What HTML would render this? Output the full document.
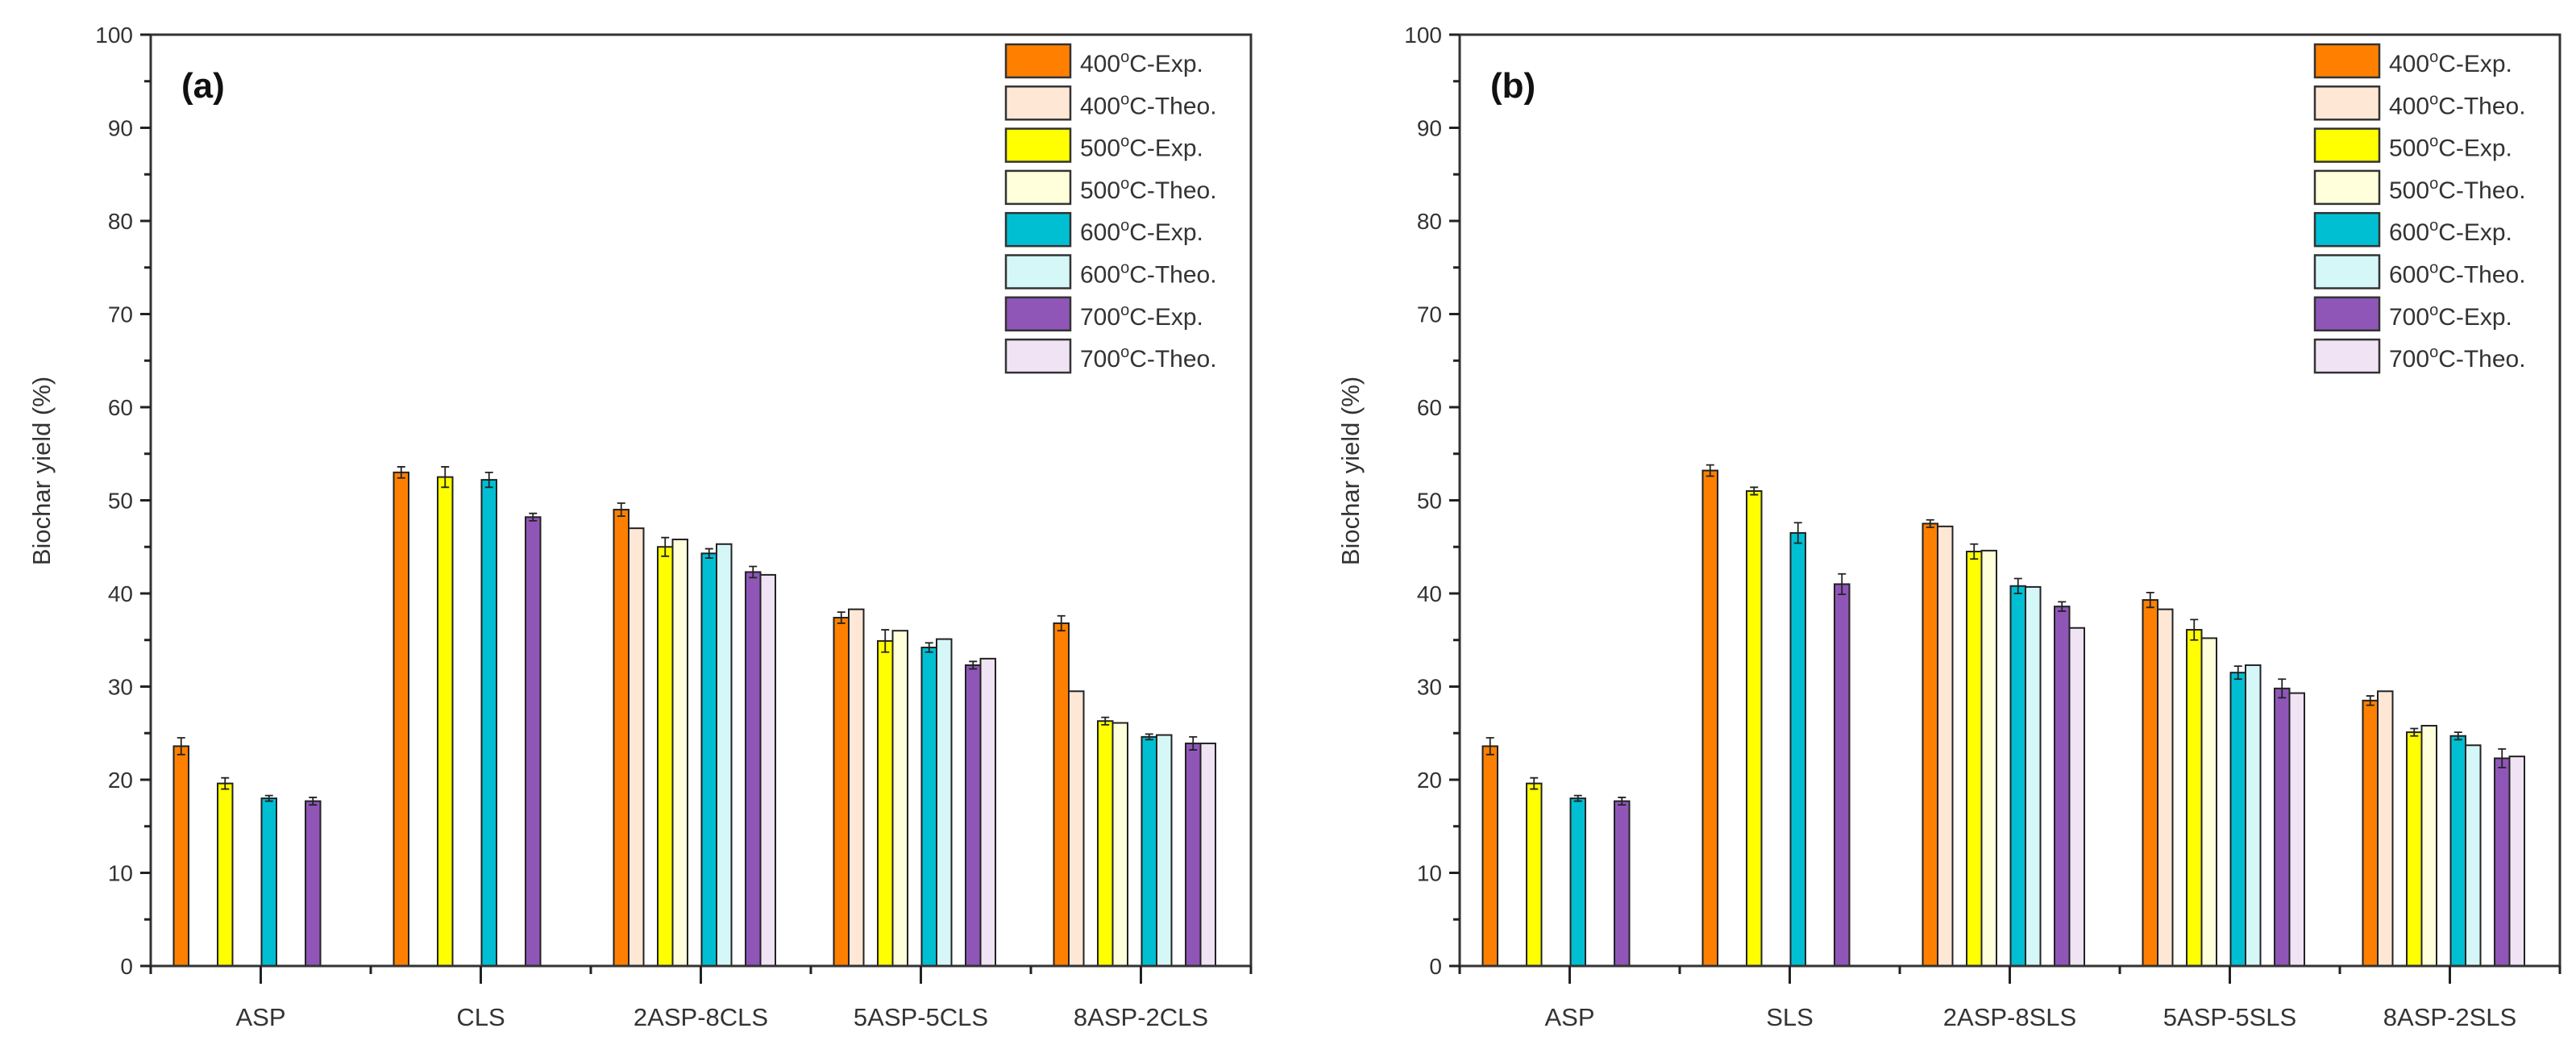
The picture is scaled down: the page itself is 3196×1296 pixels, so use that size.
<!DOCTYPE html>
<html><head><meta charset="utf-8"><style>
html,body{margin:0;padding:0;background:#fff;}
svg{display:block;font-family:"Liberation Sans",Arial,sans-serif;}
</style></head><body>
<svg id="chart" width="3196" height="1296" viewBox="0 0 3196 1296"></svg>
<script>
const categoriesA = ["ASP","CLS","2ASP-8CLS","5ASP-5CLS","8ASP-2CLS"];
const categoriesB = ["ASP","SLS","2ASP-8SLS","5ASP-5SLS","8ASP-2SLS"];
const seriesNames = ["400°C-Exp.","400°C-Theo.","500°C-Exp.","500°C-Theo.","600°C-Exp.","600°C-Theo.","700°C-Exp.","700°C-Theo."];
// values per series (null = no bar)
const a400e = [23.6,53.0,49.0,37.4,36.8];
const a400t = [null,null,47.0,38.3,29.5];
const a500e = [19.6,52.5,45.0,34.9,26.3];
const a500t = [null,null,45.8,36.0,26.1];
const a600e = [18.0,52.2,44.3,34.2,24.6];
const a600t = [null,null,45.3,35.1,24.8];
const a700e = [17.7,48.2,42.3,32.3,23.9];
const a700t = [null,null,42.0,33.0,23.9];
const aErr  = [[0.9,0.6,0.7,0.6,0.8],[0.6,1.1,1.0,1.2,0.4],[0.3,0.8,0.5,0.5,0.3],[0.4,0.4,0.6,0.4,0.7]];
const b400e = [23.6,53.2,47.5,39.3,28.5];
const b400t = [null,null,47.2,38.3,29.5];
const b500e = [19.6,51.0,44.5,36.1,25.1];
const b500t = [null,null,44.6,35.2,25.8];
const b600e = [18.0,46.5,40.8,31.5,24.7];
const b600t = [null,null,40.7,32.3,23.7];
const b700e = [17.7,41.0,38.6,29.8,22.3];
const b700t = [null,null,36.3,29.3,22.5];
const bErr  = [[0.9,0.6,0.4,0.8,0.5],[0.6,0.4,0.8,1.1,0.4],[0.3,1.1,0.8,0.7,0.4],[0.4,1.1,0.5,1.0,1.0]];
const yTicks = [0,10,20,30,40,50,60,70,80,90,100];
const fills = ["#ff8000","#ffe7d6","#ffff00","#ffffdc","#00bfd3","#d6f7f7","#8f56b8","#efe3f4"];

const NS="http://www.w3.org/2000/svg";
const svg=document.getElementById('chart');
function mk(tag,attrs,parent,text){const e=document.createElementNS(NS,tag);for(const k in attrs)e.setAttribute(k,attrs[k]);if(text!==undefined)e.textContent=text;(parent||svg).appendChild(e);return e;}

function panel(ox, cats, series, errs, label, key){
  const L=187+ox, R=1552+ox, T=43, B=1198;
  const y=v=>B-(v/100)*(B-T);
  const step=(R-L)/cats.length;
  const cx=i=>L+step*(i+0.5);
  const g=mk('g',{});
  
  
  // bars
  const bw=18.5, pitch=54.5;
  series.forEach((vals,s)=>{
    const pair=Math.floor(s/2), theo=s%2;
    vals.forEach((v,i)=>{
      if(v===null)return;
      const x=cx(i)-108+pair*pitch+theo*bw;
      const r=mk('rect',{x:x,y:y(v),width:bw,height:B-y(v),fill:fills[s],stroke:'#222','stroke-width':2},g);
      
      
      if(!theo){
        const e=errs[pair][i], xm=x+bw/2;
        const eb=mk('path',{d:`M${xm},${y(v+e)}V${y(v-e)}M${xm-5},${y(v+e)}H${xm+5}M${xm-5},${y(v-e)}H${xm+5}`,stroke:'#222','stroke-width':1.8,fill:'none'},g);
        
        
      }
    });
  });
  // frame
  const fr=mk('rect',{x:L,y:T,width:R-L,height:B-T,fill:'none',stroke:'#333','stroke-width':3},g);
  
  
  // y ticks
  yTicks.forEach(t=>{
    mk('line',{x1:L-13,x2:L,y1:y(t),y2:y(t),stroke:'#222','stroke-width':3},g);
    if(t<100) mk('line',{x1:L-8,x2:L,y1:y(t+5),y2:y(t+5),stroke:'#222','stroke-width':3},g);
    const tl=mk('text',{x:L-22,y:y(t)+10,'text-anchor':'end','font-size':28,fill:'#333'},g,String(t));
    
    
  });
  // x ticks
  cats.forEach((c,i)=>{
    mk('line',{x1:cx(i),x2:cx(i),y1:B,y2:B+22,stroke:'#222','stroke-width':3},g);
    mk('line',{x1:L+step*i,x2:L+step*i,y1:B,y2:B+10,stroke:'#222','stroke-width':3},g);
    const xl=mk('text',{x:cx(i),y:1272,'text-anchor':'middle','font-size':31,fill:'#333'},g,c);
    
    
  });
  mk('line',{x1:R,x2:R,y1:B,y2:B+10,stroke:'#222','stroke-width':3},g);
  const yt=mk('text',{x:0,y:0,'text-anchor':'middle','font-size':31,fill:'#333',transform:`translate(${62+ox},${584}) rotate(-90)`},g,'Biochar yield (%)');
  
  
  const pl=mk('text',{x:225+ox,y:121,'font-size':44,'font-weight':'bold',fill:'#111'},g,label);
  
  
  // legend
  seriesNames.forEach((n,s)=>{
    const ly=55+s*52.3;
    const le=mk('g',{},g);
    
    
    mk('rect',{x:1248+ox,y:ly,width:80,height:41,fill:fills[s],stroke:'#333','stroke-width':2.5},le);
    const m=n.match(/^(\d+)°(.*)$/);
    const t=mk('text',{x:1340+ox,y:ly+34,'font-size':30,fill:'#333'},le);
    mk('tspan',{},t,m[1]);
    mk('tspan',{dy:-12,'font-size':20},t,'o');
    mk('tspan',{dy:12},t,m[2]);
  });
}
panel(0,categoriesA,[a400e,a400t,a500e,a500t,a600e,a600t,a700e,a700t],aErr,'(a)','a');
panel(1624,categoriesB,[b400e,b400t,b500e,b500t,b600e,b600t,b700e,b700t],bErr,'(b)','b');
</script>
</body></html>
